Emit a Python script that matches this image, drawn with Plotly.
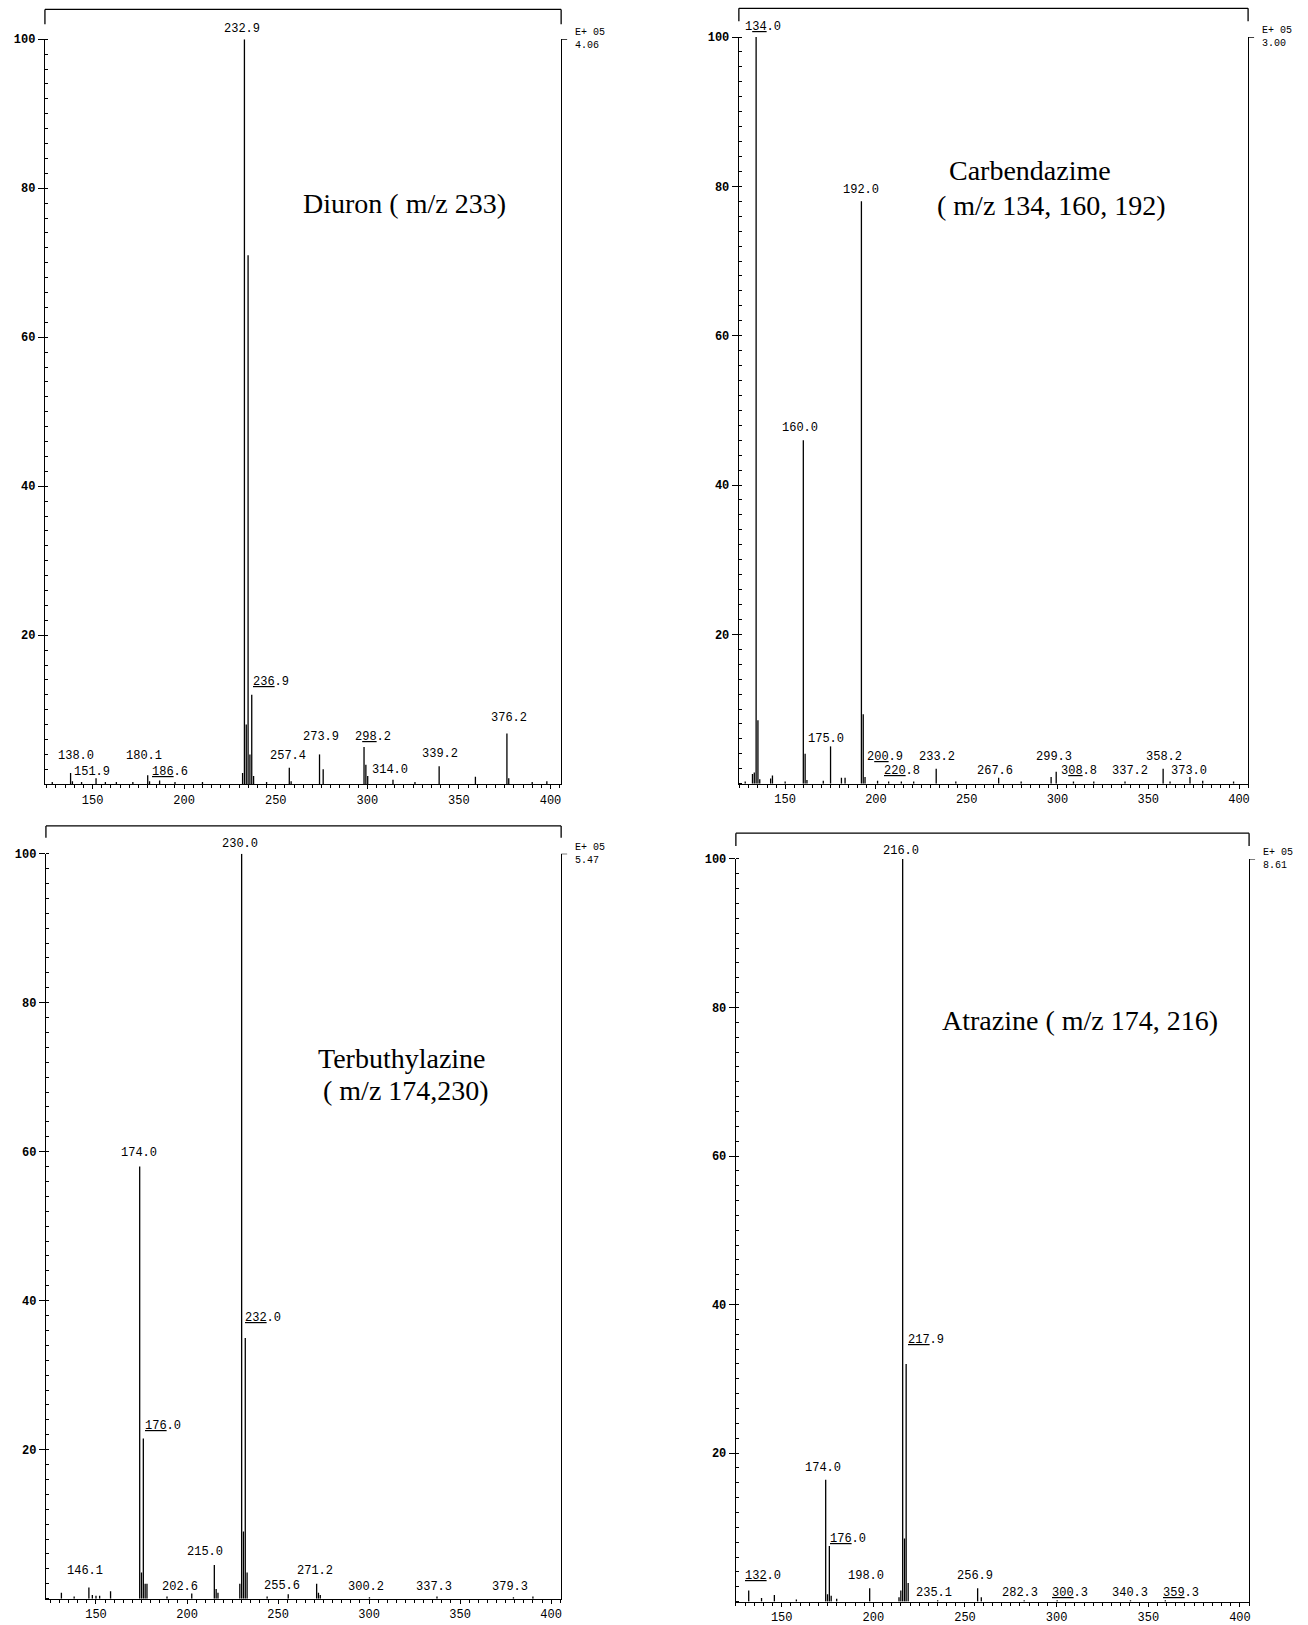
import plotly.graph_objects as go

W, H = 1308, 1625

# ---------------- data (m/z, relative intensity %) ----------------
diuron_mz = [128.0, 138.0, 139.0, 144.0, 151.9, 157.0, 163.0, 172.0, 180.1, 181.1, 186.6, 195.0,
             210.0, 231.9, 232.9, 233.9, 234.9, 235.9, 236.9, 237.9, 245.0, 257.4, 258.4, 273.9,
             275.9, 298.2, 299.2, 300.2, 314.0, 326.0, 339.2, 359.0, 376.2, 377.2, 390.0, 398.0]
diuron_int = [0.3, 1.5, 0.4, 0.3, 0.8, 0.3, 0.3, 0.3, 1.2, 0.4, 0.5, 0.3,
              0.3, 1.5, 100, 8.0, 71, 4.0, 12, 1.1, 0.3, 2.2, 0.4, 4.0,
              2.0, 5.0, 2.6, 1.1, 0.6, 0.3, 2.4, 1.0, 6.8, 0.8, 0.3, 0.4]
diuron_labels = ["232.9", "<u>236</u>.9", "138.0", "151.9", "180.1", "<u>186</u>.6", "257.4",
                 "273.9", "2<u>98</u>.2", "314.0", "339.2", "376.2"]

carb_mz = [128.0, 132.0, 133.0, 134.0, 135.0, 136.0, 142.0, 143.0, 150.0, 160.0, 161.0, 162.0,
           171.0, 175.0, 181.0, 183.0, 192.0, 193.0, 194.0, 200.9, 207.0, 214.0, 220.8, 233.2,
           244.0, 267.6, 280.0, 296.5, 299.3, 308.8, 320.0, 337.2, 358.2, 362.0, 373.0, 380.0, 397.0]
carb_int = [0.3, 1.3, 1.5, 100, 8.5, 0.6, 0.7, 1.1, 0.3, 46, 4.0, 0.5,
            0.4, 5.0, 0.8, 0.8, 78, 9.3, 0.9, 0.4, 0.3, 0.3, 0.3, 2.0,
            0.3, 0.8, 0.3, 0.9, 1.6, 0.3, 0.3, 0.3, 2.0, 0.3, 0.9, 0.4, 0.3]
carb_labels = ["1<u>34</u>.0", "160.0", "192.0", "175.0", "2<u>00</u>.9", "<u>220</u>.8", "233.2",
               "267.6", "299.3", "3<u>08</u>.8", "337.2", "358.2", "373.0"]

terb_mz = [131.0, 138.0, 146.1, 148.0, 150.0, 152.0, 158.0, 174.0, 175.0, 176.0, 177.0, 178.0,
           189.0, 202.6, 215.0, 216.0, 217.0, 229.0, 230.0, 231.0, 232.0, 233.0, 244.0, 255.6,
           271.2, 272.2, 273.2, 300.2, 337.3, 379.3, 390.0]
terb_int = [0.8, 0.3, 1.5, 0.5, 0.4, 0.4, 1.0, 58, 3.5, 21.5, 2.0, 2.0,
            0.3, 0.7, 4.5, 1.3, 0.8, 2.0, 100, 9.0, 35, 3.5, 0.3, 0.6,
            2.0, 0.8, 0.5, 0.2, 0.3, 0.2, 0.3]
terb_labels = ["230.0", "174.0", "<u>232</u>.0", "<u>176</u>.0", "146.1", "202.6", "215.0",
               "255.6", "271.2", "300.2", "337.3", "379.3"]

atra_mz = [132.0, 139.0, 146.0, 158.0, 174.0, 175.0, 176.0, 177.0, 180.0, 198.0, 214.0, 215.0,
           216.0, 217.0, 217.9, 219.0, 235.1, 256.9, 258.9, 282.3, 300.3, 340.3, 359.3]
atra_int = [1.5, 0.5, 0.9, 0.3, 16.4, 1.0, 7.5, 0.8, 0.4, 1.8, 0.6, 1.5,
            100, 8.5, 32, 2.5, 0.2, 1.8, 0.6, 0.2, 0.2, 0.2, 0.2]
atra_labels = ["216.0", "<u>217</u>.9", "174.0", "<u>176</u>.0", "<u>132</u>.0", "198.0", "256.9",
               "235.1", "282.3", "<u>300</u>.3", "340.3", "<u>359</u>.3"]

x_ticks = [150, 200, 250, 300, 350, 400]
y_ticks = [20, 40, 60, 80, 100]

# ---------------- layout (label placement, panel geometry in window px) ----------------
panels = [
    dict(mz=diuron_mz, inten=diuron_int, labels=diuron_labels,
         lx=[231.5, 247.3, 140.7, 149.7, 178.3, 192.1, 256.5, 274.9, 303.0, 312.3, 339.7, 377.6],
         ly=[101.3, 13.7, 3.8, 1.7, 3.8, 1.7, 3.8, 6.3, 6.3, 1.95, 4.1, 8.9],
         xr=[124.0, 405.8], px=[45, 562], py=[33.5, 784], scale="4.06",
         brk=(30, 15),
         names=[("Diuron ( m/z 233)", 405, 199)]),
    dict(mz=carb_mz, inten=carb_int, labels=carb_labels,
         lx=[138.0, 158.4, 191.8, 172.4, 205.1, 214.2, 233.4, 265.5, 297.9, 311.8, 339.7, 358.5, 372.6],
         ly=[101.3, 47.6, 79.5, 6.0, 3.6, 1.75, 3.6, 1.75, 3.6, 1.75, 1.75, 3.6, 1.75],
         xr=[124.5, 405.0], px=[740, 1250], py=[31.3, 783.5], scale="3.00",
         brk=(29, 13),
         names=[("Carbendazime", 1032, 166), ("( m/z 134, 160, 192)", 1053, 201)]),
    dict(mz=terb_mz, inten=terb_int, labels=terb_labels,
         lx=[229.2, 173.5, 242.0, 186.8, 144.2, 195.9, 209.7, 252.0, 270.2, 298.2, 335.8, 377.3],
         ly=[101.3, 59.8, 37.7, 23.2, 3.7, 1.6, 6.2, 1.7, 3.7, 1.6, 1.6, 1.6],
         xr=[122.5, 405.5], px=[46, 562], py=[854, 1604.5], scale="5.47",
         brk=(28, 12),
         names=[("Terbuthylazine", 403, 1060), ("( m/z 174,230)", 407, 1093)]),
    dict(mz=atra_mz, inten=atra_int, labels=atra_labels,
         lx=[215.1, 228.9, 172.5, 186.4, 139.7, 196.0, 255.5, 233.1, 279.8, 307.3, 339.9, 367.8],
         ly=[101.0, 35.2, 18.0, 8.5, 3.5, 3.5, 3.5, 1.2, 1.2, 1.2, 1.2, 1.2],
         xr=[125.0, 405.0], px=[737, 1251], py=[859.3, 1607.5], scale="8.61",
         brk=(26, 13),
         names=[("Atrazine ( m/z 174, 216)", 1082, 1022)]),
]

MONO = "Liberation Mono"
SERIF = "Liberation Serif"


def fx(px):
    return px / W


def fy(py):
    return 1 - py / H


fig = go.Figure()
annotations = []
shapes = []
layout_axes = {}

for i, p in enumerate(panels, start=1):
    xa = "x" if i == 1 else f"x{i}"
    ya = "y" if i == 1 else f"y{i}"
    xs, ys = [], []
    for m, v in zip(p["mz"], p["inten"]):
        xs += [m, m, None]
        ys += [0, v, None]
    fig.add_trace(go.Scatter(x=xs, y=ys, mode="lines", xaxis=xa, yaxis=ya,
                             line=dict(color="black", width=1.3),
                             showlegend=False, hoverinfo="skip"))

    dx = [fx(p["px"][0]), fx(p["px"][1])]
    dy = [fy(p["py"][1]), fy(p["py"][0])]
    dom_h = p["py"][1] - p["py"][0]
    dom_w = p["px"][1] - p["px"][0]

    layout_axes["xaxis" if i == 1 else f"xaxis{i}"] = dict(
        domain=dx, range=p["xr"], anchor=ya, showline=True, linecolor="black", linewidth=1.3,
        showgrid=False, zeroline=False, tickmode="array", tickvals=x_ticks,
        ticks="outside", ticklen=4, tickwidth=1.2, tickcolor="black",
        minor=dict(tickmode="linear", tick0=0, dtick=5, ticks="outside", ticklen=3,
                   tickwidth=1, tickcolor="black"),
        tickfont=dict(family=MONO, size=12, color="black"), fixedrange=True)
    layout_axes["yaxis" if i == 1 else f"yaxis{i}"] = dict(
        domain=dy, range=[0, 100], anchor=xa, showline=True, mirror=True, linecolor="black",
        linewidth=1.3, showgrid=False, zeroline=False, tickmode="array", tickvals=y_ticks,
        ticks="outside", ticklen=6, tickwidth=1.2, tickcolor="black",
        minor=dict(tickmode="linear", tick0=0, dtick=2, ticks="inside", ticklen=3,
                   tickwidth=1, tickcolor="black"),
        tickfont=dict(family=MONO, size=12, color="black", weight="bold"), fixedrange=True)

    # peak labels (labels above the top of the axis are anchored at 100 and shifted up)
    for t, lx, ly in zip(p["labels"], p["lx"], p["ly"]):
        yv = min(ly, 100)
        ysh = (ly - 100) * dom_h / 100 if ly > 100 else 0
        annotations.append(dict(x=lx, y=yv, xref=xa, yref=ya, text=t, showarrow=False,
                                xanchor="center", yanchor="middle", yshift=ysh,
                                font=dict(family=MONO, size=12, color="black")))

    # intensity scale at the right
    annotations.append(dict(x=1, y=100, xref=f"{xa} domain", yref=ya,
                            text="E+ 05<br>" + p["scale"], showarrow=False,
                            xanchor="left", yanchor="middle", xshift=12, align="left",
                            font=dict(family=MONO, size=10, color="black")))

    # compound names
    for txt, cx, cy in p["names"]:
        annotations.append(dict(x=fx(cx), y=fy(cy), xref="paper", yref="paper",
                                text=txt, showarrow=False, xanchor="center", yanchor="middle",
                                font=dict(family=SERIF, size=28, color="black")))

    # frame decorations: top bracket, right-axis corner tick
    off, vlen = p["brk"]
    ytop = 1 + off / dom_h
    ybot = 1 + (off - vlen) / dom_h
    line = dict(color="black", width=1.3)
    shapes.append(dict(type="line", xref=f"{xa} domain", yref=f"{ya} domain",
                       x0=0, x1=1, y0=ytop, y1=ytop, line=line))
    shapes.append(dict(type="line", xref=f"{xa} domain", yref=f"{ya} domain",
                       x0=0, x1=0, y0=ytop, y1=ybot, line=line))
    shapes.append(dict(type="line", xref=f"{xa} domain", yref=f"{ya} domain",
                       x0=1, x1=1, y0=ytop, y1=ybot, line=line))
    shapes.append(dict(type="line", xref=f"{xa} domain", yref=ya,
                       x0=1, x1=1 + 6 / dom_w, y0=100, y1=100, line=line))

fig.update_layout(width=W, height=H, margin=dict(l=0, r=0, t=0, b=0),
                  paper_bgcolor="white", plot_bgcolor="white",
                  annotations=annotations, shapes=shapes, **layout_axes)

# pin the figure to the window's top-left corner and keep the page exactly window-sized
page_css = (
    "var gd=document.getElementById('{plot_id}');"
    "var de=document.documentElement, b=document.body;"
    "de.style.margin='0';de.style.padding='0';de.style.overflow='hidden';de.style.height='1625px';"
    "b.style.margin='0';b.style.padding='0';b.style.overflow='hidden';b.style.height='1625px';"
    "gd.style.position='absolute';gd.style.left='0px';gd.style.top='0px';"
)

fig.write_html("out.html", post_script=page_css, config={"displayModeBar": False})
